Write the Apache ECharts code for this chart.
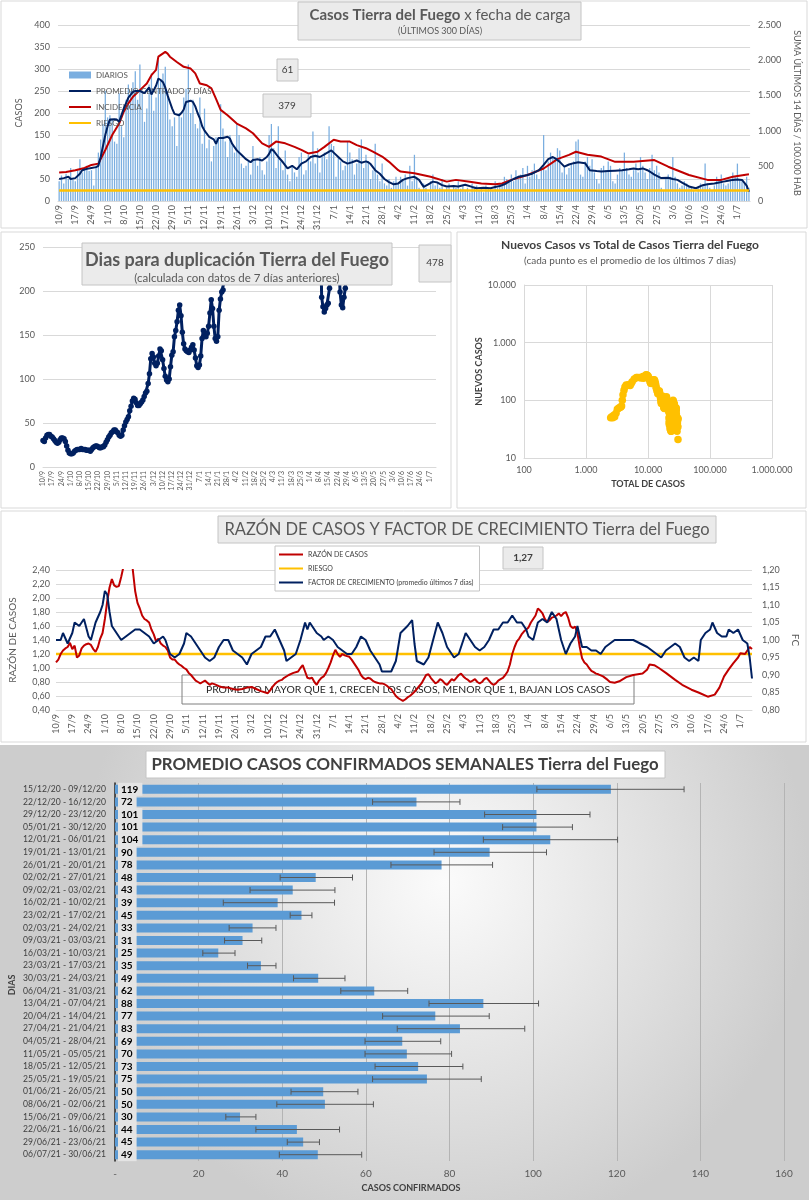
<!DOCTYPE html>
<html><head><meta charset="utf-8">
<script src="https://cdn.jsdelivr.net/npm/echarts@6/dist/echarts.min.js"></script>
<style>html,body{margin:0;padding:0;background:#fff}#c{width:809px;height:1200px}</style>
</head><body><div id="c"></div>
<script>
const FONT = 'Lato, "Open Sans", sans-serif';
// categorías: 300 días desde 10/9/2020
const dias = [];
for (let i = 0; i < 300; i++) { const d = new Date(2020, 8, 10 + i); dias.push(d.getDate() + '/' + (d.getMonth() + 1)); }

const diarios = [
45,58,40,62,50,75,48, 45,70,95,65,72,80,68, 70,35,80,110,140,175,250, 190,195,185,135,130,245,170,
145,230,265,250,270,295,230, 310,250,180,210,265,290,205, 235,320,275,290,305,250,185, 170,190,125,200,190,235,255,
310,200,230,175,165,235,130, 210,120,140,90,125,145,140, 220,165,135,100,150,130,110, 175,150,85,75,80,90,60,
125,95,80,100,70,60,90, 150,175,120,75,170,90,70, 115,60,45,80,65,55,100, 110,60,70,105,90,158,85,
120,65,100,110,95,170,130, 125,55,100,90,70,80,135, 110,95,60,85,120,140,75, 105,90,50,70,130,60,45,
85,40,35,50,30,45,55, 40,55,50,60,35,80,45, 105,55,30,25,40,30,20, 45,60,35,40,30,50,25,
30,40,25,35,30,45,28, 35,25,30,20,40,30,35, 25,30,20,35,28,30,25, 45,30,40,35,55,50,45,
60,45,70,50,60,75,40, 80,55,70,85,60,50,75, 150,70,90,110,100,95,120, 115,65,80,60,75,85,90,
135,140,60,55,90,100,80, 95,65,50,40,75,80,70, 90,80,45,40,60,75,70, 110,75,60,55,70,85,65,
100,80,65,50,75,105,70, 80,65,30,25,50,60,55, 100,55,40,30,35,45,40, 35,30,25,20,30,40,35,
85,40,30,25,35,55,45, 60,40,35,40,50,65,55, 85,50,45,40,55,30];

const promedio = [['10/9',50],['12/9',52],['14/9',55],['15/9',50],['17/9',52],['19/9',62],['20/9',70],['22/9',73],['24/9',75],['26/9',77],['27/9',80],['28/9',100],['29/9',125],['30/9',150],['1/10',170],['2/10',185],['4/10',186],['5/10',185],['6/10',180],['7/10',195],['8/10',210],['10/10',235],['12/10',248],['13/10',250],['15/10',250],['17/10',245],['19/10',258],['20/10',242],['22/10',262],['23/10',278],['24/10',275],['25/10',270],['26/10',258],['27/10',240],['28/10',225],['29/10',210],['30/10',198],['1/11',195],['2/11',200],['3/11',208],['4/11',225],['6/11',228],['7/11',225],['8/11',215],['9/11',200],['10/11',188],['11/11',170],['12/11',160],['14/11',146],['16/11',140],['17/11',130],['18/11',143],['20/11',143],['22/11',146],['23/11',142],['24/11',130],['26/11',115],['28/11',105],['30/11',95],['2/12',88],['3/12',93],['5/12',95],['7/12',92],['9/12',100],['10/12',107],['11/12',118],['12/12',114],['14/12',100],['16/12',88],['18/12',74],['19/12',77],['20/12',80],['22/12',72],['24/12',85],['26/12',90],['28/12',100],['30/12',103],['1/1',100],['3/1',106],['5/1',112],['6/1',115],['7/1',110],['9/1',100],['11/1',90],['13/1',85],['15/1',88],['17/1',92],['19/1',87],['21/1',90],['22/1',88],['23/1',84],['25/1',70],['27/1',62],['29/1',50],['31/1',43],['2/2',38],['4/2',40],['6/2',48],['8/2',52],['11/2',55],['13/2',48],['15/2',32],['17/2',38],['19/2',44],['21/2',42],['23/2',36],['25/2',33],['28/2',34],['2/3',33],['5/3',37],['8/3',32],['10/3',29],['13/3',30],['16/3',29],['18/3',32],['20/3',34],['22/3',38],['24/3',44],['26/3',50],['28/3',55],['30/3',57],['1/4',59],['3/4',62],['6/4',70],['8/4',82],['10/4',95],['12/4',100],['13/4',97],['15/4',89],['17/4',78],['19/4',83],['21/4',86],['23/4',88],['26/4',86],['28/4',70],['1/5',68],['3/5',67],['6/5',68],['9/5',69],['12/5',70],['15/5',72],['17/5',74],['19/5',72],['21/5',74],['23/5',70],['24/5',67],['26/5',60],['29/5',52],['1/6',53],['3/6',50],['5/6',48],['7/6',42],['10/6',33],['13/6',29],['16/6',36],['18/6',38],['21/6',40],['23/6',42],['25/6',44],['27/6',46],['29/6',48],['1/7',49],['3/7',48],['5/7',35],['6/7',21]];

const incidencia = [['10/9',406],['13/9',412],['17/9',437],['21/9',469],['24/9',512],['27/9',531],['30/9',725],['3/10',937],['6/10',1100],['8/10',1269],['10/10',1387],['12/10',1481],['15/10',1575],['18/10',1669],['20/10',1787],['22/10',1862],['23/10',2050],['26/10',2119],['27/10',2094],['28/10',2050],['31/10',1975],['3/11',1906],['6/11',1881],['8/11',1812],['10/11',1669],['13/11',1644],['15/11',1600],['17/11',1450],['19/11',1294],['22/11',1219],['26/11',1100],['30/11',1031],['3/12',962],['7/12',819],['10/12',769],['13/12',844],['17/12',819],['21/12',769],['24/12',725],['27/12',675],['31/12',700],['3/1',769],['7/1',869],['10/1',844],['14/1',844],['17/1',794],['21/1',750],['24/1',700],['28/1',631],['31/1',556],['4/2',437],['5/2',419],['11/2',394],['18/2',344],['25/2',275],['1/3',300],['7/3',275],['12/3',250],['18/3',237],['21/3',250],['25/3',300],['1/4',369],['8/4',462],['14/4',594],['19/4',656],['22/4',700],['27/4',656],['3/5',631],['9/5',556],['17/5',556],['26/5',581],['1/6',487],['10/6',369],['18/6',300],['24/6',300],['29/6',344],['6/7',381]];
const riesgoIncidencia = [['10/9',150],['6/7',150]];

const duplicacion = [
30,29,33,36,37,37,35,34,32,30, 28,27,28,31,33,33,32,29,24,19, 16,15,15,16,18,19,20,20,20,21,
20,20,20,19,19,19,18,20,22,23, 24,24,23,22,22,23,23,25,28,31, 34,36,39,40,42,42,40,39,36,35,
36,42,47,51,54,57,64,69,75,78, 77,73,70,70,72,74,76,80,84,86, 95,106,123,129,125,118,115,118,126,134,
132,122,112,103,99,97,100,114,127,131, 148,155,165,178,184,172,153,140,134,132, 131,130,133,136,139,133,124,115,113,116,
126,146,155,152,148,152,160,175,190,180, 160,146,143,148,178,191,199,201,212,240, 290];
const duplicacionAbril = [['9/4',280],['10/4',193],['11/4',182],['12/4',176],['13/4',180],['14/4',184],['15/4',186],['16/4',203],['17/4',240],['18/4','-'],['23/4',240],['24/4',199],['25/4',184],['26/4',181],['27/4',193],['28/4',203],['29/4',250],['30/4','-']];

const totalCasos = [2500,2600,2700,2800,2900,3050,3200,3350,3500,3650,3750,3850,3950,4100,4250,4450,4800,5000,5150,5350,5550,6000,6500,6750,7250,7750,8250,8500,9000,9300,9550,9850,10100,10350,10600,10800,11000,11400,11600,11800,12000,12500,12700,12900,13100,13300,13500,13650,13950,14250,14400,14550,14850,15100,15300,15550,15800,16000,16200,16400,16500,16700,16900,17100,17200,17300,17450,17650,17850,18000,18100,18200,18350,18500,18700,18900,19100,19300,19500,19700,19850,19950,20150,20350,20500,20700,20900,21050,21250,21350,21400,21600,21700,21850,21950,22050,22100,22200,22300,22450,22550,22650,22700,22800,22900,22950,23050,23150,23250,23350,23450,23500,23600,23700,23750,23800,23900,24000,24100,24200,24350,24450,24650,24800,24950,25150,25350,25450,25650,25800,25950,26150,26300,26550,26700,26900,27000,27200,27400,27600,27850,28000,28100,28250,28400,28500,28600,28750,28900,29000,29100,29200,29300,29400,29500,29600,29750,29800,29900,30000,30100,30200,30300,30400,30450];
const nuevosCasos = [50,52,50,55,52,60,70,73,75,77,80,100,125,150,170,185,186,185,180,195,210,235,248,250,250,245,258,242,262,278,275,270,258,240,225,210,198,195,200,208,225,228,225,215,200,188,170,160,146,140,130,143,143,146,142,130,115,105,95,88,93,95,92,100,107,118,114,100,88,74,77,80,72,85,90,100,103,100,106,112,115,110,100,90,85,88,92,87,90,88,84,70,62,50,43,38,40,48,52,55,48,32,38,44,42,36,33,34,33,37,32,29,30,29,32,34,38,44,50,55,57,59,62,70,82,95,100,97,89,78,83,86,88,86,70,68,67,68,69,70,72,74,72,74,70,67,60,52,53,50,48,42,33,29,36,38,40,42,44,46,48,49,48,35,21];

const razon = [['10/9',1.08],['11/9',1.12],['12/9',1.2],['13/9',1.25],['14/9',1.28],['15/9',1.3],['16/9',1.36],['17/9',1.27],['18/9',1.32],['19/9',1.15],['20/9',1.18],['21/9',1.28],['22/9',1.32],['23/9',1.34],['24/9',1.35],['25/9',1.33],['26/9',1.27],['27/9',1.23],['28/9',1.3],['29/9',1.42],['30/9',1.5],['1/10',1.7],['2/10',1.95],['3/10',2.15],['4/10',2.27],['5/10',2.18],['6/10',2.16],['7/10',2.17],['8/10',2.3],['9/10',2.45],['10/10',2.8],['11/10',3.0],['12/10',2.8],['13/10',2.4],['14/10',2.1],['15/10',1.93],['16/10',1.85],['17/10',1.75],['18/10',1.7],['19/10',1.68],['20/10',1.65],['21/10',1.55],['22/10',1.48],['23/10',1.38],['24/10',1.42],['25/10',1.35],['26/10',1.32],['27/10',1.3],['28/10',1.25],['29/10',1.15],['30/10',1.12],['31/10',1.12],['1/11',1.08],['2/11',1.05],['3/11',1.03],['4/11',1.0],['5/11',0.98],['6/11',0.93],['7/11',0.9],['8/11',0.86],['9/11',0.82],['10/11',0.8],['11/11',0.78],['12/11',0.8],['13/11',0.82],['14/11',0.79],['15/11',0.76],['16/11',0.78],['17/11',0.77],['19/11',0.74],['21/11',0.72],['23/11',0.72],['25/11',0.7],['27/11',0.69],['29/11',0.7],['1/12',0.72],['3/12',0.73],['5/12',0.7],['7/12',0.67],['9/12',0.65],['10/12',0.64],['11/12',0.68],['12/12',0.73],['13/12',0.77],['14/12',0.8],['15/12',0.82],['16/12',0.83],['17/12',0.86],['19/12',0.9],['21/12',0.93],['23/12',0.95],['24/12',1.0],['25/12',1.04],['26/12',0.95],['27/12',0.86],['28/12',0.85],['29/12',0.86],['30/12',0.8],['31/12',0.76],['1/1',0.82],['2/1',0.86],['3/1',0.88],['4/1',0.93],['5/1',1.0],['6/1',1.08],['7/1',1.18],['8/1',1.26],['9/1',1.2],['10/1',1.16],['11/1',1.2],['12/1',1.18],['13/1',1.17],['14/1',1.16],['15/1',1.12],['16/1',1.07],['17/1',1.02],['18/1',0.97],['19/1',0.9],['20/1',0.86],['21/1',0.84],['22/1',0.86],['23/1',0.85],['24/1',0.82],['25/1',0.8],['26/1',0.79],['27/1',0.78],['28/1',0.78],['29/1',0.77],['30/1',0.75],['31/1',0.72],['1/2',0.7],['2/2',0.65],['3/2',0.6],['4/2',0.57],['5/2',0.55],['6/2',0.53],['7/2',0.55],['8/2',0.58],['9/2',0.6],['10/2',0.63],['11/2',0.66],['12/2',0.7],['13/2',0.74],['14/2',0.78],['15/2',0.84],['16/2',0.9],['17/2',0.91],['18/2',0.86],['19/2',0.82],['20/2',0.78],['21/2',0.8],['22/2',0.84],['23/2',0.82],['24/2',0.78],['25/2',0.76],['26/2',0.8],['27/2',0.84],['28/2',0.82],['1/3',0.86],['2/3',0.9],['3/3',0.92],['4/3',0.88],['5/3',0.85],['6/3',0.83],['7/3',0.8],['8/3',0.82],['9/3',0.84],['10/3',0.8],['11/3',0.78],['12/3',0.8],['13/3',0.84],['14/3',0.86],['15/3',0.82],['16/3',0.78],['17/3',0.76],['18/3',0.78],['19/3',0.82],['20/3',0.84],['21/3',0.86],['22/3',0.9],['23/3',0.95],['24/3',1.05],['25/3',1.2],['26/3',1.3],['27/3',1.38],['28/3',1.42],['29/3',1.48],['30/3',1.52],['31/3',1.55],['1/4',1.58],['2/4',1.65],['3/4',1.7],['4/4',1.75],['5/4',1.85],['6/4',1.82],['7/4',1.78],['8/4',1.7],['9/4',1.66],['10/4',1.68],['11/4',1.72],['12/4',1.73],['13/4',1.75],['14/4',1.78],['15/4',1.74],['16/4',1.78],['17/4',1.8],['18/4',1.72],['19/4',1.6],['20/4',1.57],['21/4',1.59],['22/4',1.5],['23/4',1.3],['24/4',1.14],['25/4',1.08],['26/4',1.05],['27/4',1.0],['28/4',0.96],['29/4',0.94],['30/4',0.92],['1/5',0.91],['3/5',0.88],['5/5',0.83],['6/5',0.8],['8/5',0.79],['10/5',0.81],['13/5',0.87],['16/5',0.9],['20/5',0.92],['22/5',0.98],['23/5',1.05],['25/5',1.04],['27/5',1.0],['30/5',0.93],['3/6',0.83],['6/6',0.76],['10/6',0.69],['13/6',0.65],['17/6',0.59],['20/6',0.62],['22/6',0.72],['24/6',0.88],['26/6',0.98],['28/6',1.07],['30/6',1.15],['1/7',1.21],['3/7',1.2],['5/7',1.3],['6/7',1.27]];
const riesgoRazon = [['10/9',1.2],['6/7',1.2]];
const factorCrecimiento = [['10/9',1.0],['12/9',1.0],['13/9',1.02],['15/9',0.99],['17/9',1.02],['18/9',1.05],['20/9',1.04],['22/9',1.06],['24/9',1.01],['25/9',1.0],['27/9',1.05],['29/9',1.08],['30/9',1.1],['1/10',1.14],['2/10',1.13],['3/10',1.08],['4/10',1.04],['6/10',1.02],['8/10',1.0],['10/10',1.01],['12/10',1.02],['14/10',1.03],['16/10',1.03],['18/10',1.02],['20/10',1.01],['22/10',0.99],['24/10',1.0],['26/10',1.01],['27/10',1.0],['29/10',0.96],['31/10',0.95],['2/11',0.96],['4/11',0.99],['5/11',1.02],['7/11',1.01],['9/11',0.99],['11/11',0.97],['13/11',0.95],['15/11',0.94],['17/11',0.95],['19/11',0.98],['21/11',1.0],['23/11',1.0],['25/11',0.97],['27/11',0.96],['29/11',0.95],['1/12',0.93],['3/12',0.96],['5/12',0.97],['7/12',0.98],['9/12',1.01],['11/12',1.01],['13/12',1.03],['15/12',1.0],['17/12',0.97],['18/12',0.94],['20/12',0.95],['22/12',0.96],['24/12',1.0],['26/12',1.05],['27/12',1.03],['28/12',1.05],['30/12',1.03],['31/12',1.02],['2/1',1.01],['3/1',1.0],['5/1',1.01],['7/1',1.0],['9/1',0.98],['11/1',0.97],['13/1',0.96],['15/1',0.96],['17/1',0.98],['19/1',1.01],['21/1',1.0],['23/1',0.97],['25/1',0.95],['27/1',0.93],['28/1',0.91],['30/1',0.91],['1/2',0.91],['3/2',0.94],['5/2',1.02],['8/2',1.04],['10/2',1.057],['11/2',0.99],['12/2',0.94],['15/2',0.93],['17/2',0.95],['19/2',1.0],['21/2',1.05],['23/2',1.02],['25/2',0.98],['27/2',0.96],['28/2',0.95],['2/3',0.96],['4/3',1.0],['5/3',1.02],['7/3',1.0],['9/3',0.98],['11/3',0.97],['13/3',0.98],['15/3',1.0],['17/3',1.03],['19/3',1.03],['21/3',1.05],['23/3',1.05],['25/3',1.07],['27/3',1.05],['29/3',1.05],['31/3',1.03],['1/4',1.01],['3/4',1.0],['5/4',1.05],['7/4',1.06],['9/4',1.05],['11/4',1.08],['13/4',1.06],['15/4',1.0],['17/4',0.96],['19/4',0.99],['21/4',1.01],['22/4',1.04],['24/4',0.98],['26/4',0.98],['28/4',0.97],['30/4',0.97],['2/5',0.96],['4/5',0.98],['6/5',0.99],['8/5',1.0],['10/5',1.0],['13/5',1.0],['16/5',1.0],['19/5',0.99],['22/5',0.98],['24/5',0.97],['26/5',0.96],['28/5',0.95],['30/5',0.97],['1/6',0.98],['3/6',0.99],['5/6',0.98],['7/6',0.95],['9/6',0.94],['11/6',0.95],['13/6',0.94],['14/6',1.0],['16/6',1.02],['18/6',1.03],['19/6',1.05],['21/6',1.02],['23/6',1.01],['25/6',1.01],['26/6',1.03],['28/6',1.02],['30/6',1.03],['2/7',1.0],['4/7',0.99],['5/7',0.95],['6/7',0.89]];

const semanas = ['15/12/20 - 09/12/20','22/12/20 - 16/12/20','29/12/20 - 23/12/20','05/01/21 - 30/12/20','12/01/21 - 06/01/21','19/01/21 - 13/01/21','26/01/21 - 20/01/21','02/02/21 - 27/01/21','09/02/21 - 03/02/21','16/02/21 - 10/02/21','23/02/21 - 17/02/21','02/03/21 - 24/02/21','09/03/21 - 03/03/21','16/03/21 - 10/03/21','23/03/21 - 17/03/21','30/03/21 - 24/03/21','06/04/21 - 31/03/21','13/04/21 - 07/04/21','20/04/21 - 14/04/21','27/04/21 - 21/04/21','04/05/21 - 28/04/21','11/05/21 - 05/05/21','18/05/21 - 12/05/21','25/05/21 - 19/05/21','01/06/21 - 26/05/21','08/06/21 - 02/06/21','15/06/21 - 09/06/21','22/06/21 - 16/06/21','29/06/21 - 23/06/21','06/07/21 - 30/06/21'];
const promedioSemanal = [118.6,72.1,100.8,100.8,104.1,89.6,78.1,48.0,42.5,38.9,44.6,32.9,30.5,24.7,34.9,48.6,62.0,88.1,76.6,82.5,68.7,69.8,72.5,74.6,49.8,50.2,29.9,43.5,45.0,48.5];
const errorBajo = [100.9,61.6,88.4,92.7,88.1,76.3,66,39.5,32.3,25.9,41.9,27.3,26.2,21,31.7,42.7,54,75.1,64,67.5,59.8,59.8,62.2,61.6,42.1,38.7,26.5,33.7,41.2,39.3];
const errorAlto = [136.1,82.5,113.6,109.4,120.2,103.2,90.3,56.8,52.6,52.5,47.1,38.5,35.1,28.7,38.5,55,70,101.3,89.5,98,77.9,80.5,83.2,87.6,58.1,61.8,33.7,53.7,48.9,59];

const miles = v => String(v).replace(/\B(?=(\d{3})+(?!\d))/g, '.');
const coma = v => v.toFixed(2).replace('.', ',');
const GRIS = '#595959', LINEA = '#d9d9d9';
const NAVY = '#002060', ROJO = '#C00000', AMAR = '#FFC000';

const lblDia = (size) => ({ interval: 6, rotate: 90, fontSize: size, color: GRIS, fontFamily: FONT, margin: 4 });
const ejeCat = (grid, size, gap) => ({ type: 'category', gridIndex: grid, data: dias, boundaryGap: gap,
  axisLabel: lblDia(size), axisTick: { show: false }, axisLine: { lineStyle: { color: LINEA } } });
const ejeVal = (grid, o) => Object.assign({ type: 'value', gridIndex: grid,
  axisLabel: { fontSize: 9, color: GRIS, fontFamily: FONT }, axisLine: { show: false }, axisTick: { show: false },
  splitLine: { lineStyle: { color: LINEA } } }, o);
const itemLinea = name => ({ name, itemStyle: { opacity: 0 } });

function caja(x, y, w, h, fill, z) { return { type: 'rect', z: z || 50, shape: { x, y, width: w, height: h }, style: { fill: fill || '#ebebeb', stroke: '#c4c4c4', lineWidth: 1 } }; }
function texto(x, y, t, size, o) { return { type: 'text', z: (o && o.z) || 51, style: Object.assign({ text: t, x, y, align: 'center', verticalAlign: 'middle', fontSize: size, fontFamily: FONT, fill: '#404040' }, o || {}) }; }

const chart = echarts.init(document.getElementById('c'));
chart.setOption({
  animation: false,
  backgroundColor: '#fff',
  textStyle: { fontFamily: FONT },
  grid: [
    { left: 58, right: 54, top: 25, height: 176 },
    { left: 43, width: 393, top: 247, height: 220 },
    { left: 524, width: 248, top: 285, height: 173 },
    { left: 55, right: 57, top: 570, height: 140 },
    { left: 115, right: 25, top: 783, height: 378 }
  ],
  xAxis: [
    ejeCat(0, 9, true),
    ejeCat(1, 7, false),
    { type: 'log', gridIndex: 2, min: 100, max: 1000000, logBase: 10, name: 'TOTAL DE CASOS', nameLocation: 'middle', nameGap: 22,
      nameTextStyle: { fontSize: 9, fontWeight: 'bold', color: '#404040', fontFamily: FONT },
      axisLabel: { fontSize: 9, color: GRIS, formatter: miles, fontFamily: FONT }, axisTick: { show: false },
      axisLine: { lineStyle: { color: LINEA } }, splitLine: { show: true, lineStyle: { color: LINEA } } },
    ejeCat(3, 9, false),
    { type: 'value', gridIndex: 4, min: 0, max: 160, interval: 20,
      axisLabel: { fontSize: 10, color: GRIS, margin: 8, fontFamily: FONT, formatter: v => v === 0 ? '-' : v },
      axisLine: { show: false }, axisTick: { show: false }, splitLine: { lineStyle: { color: '#b4b4b4' } } }
  ],
  yAxis: [
    ejeVal(0, { min: 0, max: 400, interval: 50, name: 'CASOS', nameLocation: 'middle', nameGap: 32,
      nameTextStyle: { fontSize: 9, color: GRIS, fontFamily: FONT } }),
    ejeVal(0, { min: 0, max: 2500, interval: 500, position: 'right', splitLine: { show: false },
      axisLabel: { fontSize: 9, color: GRIS, formatter: miles, fontFamily: FONT },
      name: 'SUMA ÚLTIMOS 14 DÍAS / 100.000 HAB', nameLocation: 'middle', nameGap: 40, nameRotate: -90,
      nameTextStyle: { fontSize: 9, color: GRIS, fontFamily: FONT } }),
    ejeVal(1, { min: 0, max: 250, interval: 50, axisLabel: { fontSize: 9, color: GRIS, fontFamily: FONT } }),
    { type: 'log', gridIndex: 2, min: 10, max: 10000, logBase: 10, name: 'NUEVOS CASOS', nameLocation: 'middle', nameGap: 36,
      nameTextStyle: { fontSize: 9, fontWeight: 'bold', color: '#404040', fontFamily: FONT },
      axisLabel: { fontSize: 9, color: GRIS, formatter: miles, fontFamily: FONT }, axisTick: { show: false },
      axisLine: { lineStyle: { color: LINEA } }, splitLine: { show: true, lineStyle: { color: LINEA } } },
    ejeVal(3, { min: 0.4, max: 2.4, interval: 0.2, axisLabel: { fontSize: 9, color: GRIS, formatter: coma, fontFamily: FONT, margin: 6 },
      name: 'RAZÓN DE CASOS', nameLocation: 'middle', nameGap: 38, nameTextStyle: { fontSize: 10, color: GRIS, fontFamily: FONT } }),
    ejeVal(3, { min: 0.8, max: 1.2, interval: 0.05, position: 'right', splitLine: { show: false },
      axisLabel: { fontSize: 9, color: GRIS, formatter: coma, fontFamily: FONT, margin: 10 },
      name: 'FC', nameLocation: 'middle', nameGap: 38, nameRotate: -90, nameTextStyle: { fontSize: 10, color: GRIS, fontFamily: FONT } }),
    { type: 'category', gridIndex: 4, data: semanas, inverse: true,
      axisLabel: { interval: 0, fontSize: 8.6, color: '#404040', margin: 9, fontFamily: FONT },
      axisTick: { show: false }, axisLine: { lineStyle: { color: '#262626', width: 1.5 } } }
  ],
  legend: [
    { left: 63, top: 66, orient: 'vertical', itemGap: 8, itemWidth: 22, itemHeight: 7,
      textStyle: { fontSize: 8, color: GRIS, fontFamily: FONT },
      data: [{ name: 'DIARIOS', icon: 'rect' }, itemLinea('PROMEDIO CENTRADO 7 DÍAS'), itemLinea('INCIDENCIA'), itemLinea('RIESGO')] },
    { left: 275, top: 546, orient: 'vertical', itemGap: 7, itemWidth: 24, itemHeight: 7, padding: [5, 6, 5, 3],
      backgroundColor: '#fff', borderColor: '#c4c4c4', borderWidth: 1,
      textStyle: { fontSize: 7, color: '#404040', fontFamily: FONT },
      data: [itemLinea('RAZÓN DE CASOS'), itemLinea('RIESGO'), itemLinea('FACTOR DE CRECIMIENTO (promedio últimos 7 dias)')] }
  ],
  series: [
    { type: 'bar', name: 'DIARIOS', xAxisIndex: 0, yAxisIndex: 0, data: diarios, barWidth: '55%', itemStyle: { color: '#7aaee0' }, z: 1 },
    { type: 'line', name: 'PROMEDIO CENTRADO 7 DÍAS', xAxisIndex: 0, yAxisIndex: 0, data: promedio, symbol: 'none', lineStyle: { color: NAVY, width: 2 }, itemStyle: { color: NAVY }, z: 4 },
    { type: 'line', name: 'INCIDENCIA', xAxisIndex: 0, yAxisIndex: 1, data: incidencia, symbol: 'none', lineStyle: { color: ROJO, width: 2 }, itemStyle: { color: ROJO }, z: 3 },
    { type: 'line', name: 'RIESGO', xAxisIndex: 0, yAxisIndex: 1, data: riesgoIncidencia, symbol: 'none', lineStyle: { color: AMAR, width: 2.5 }, itemStyle: { color: AMAR }, z: 5 },

    { type: 'line', xAxisIndex: 1, yAxisIndex: 2, data: duplicacion, symbol: 'circle', symbolSize: 5.5, showAllSymbol: true, clip: true,
      lineStyle: { color: NAVY, width: 3 }, itemStyle: { color: NAVY } },
    { type: 'line', xAxisIndex: 1, yAxisIndex: 2, data: duplicacionAbril, symbol: 'circle', symbolSize: 5.5, showAllSymbol: true, clip: true,
      lineStyle: { color: NAVY, width: 3 }, itemStyle: { color: NAVY } },

    { type: 'scatter', xAxisIndex: 2, yAxisIndex: 3, symbolSize: 7.5, itemStyle: { color: AMAR, opacity: 1 },
      data: totalCasos.map((t, i) => [t, nuevosCasos[i]]) },

    { type: 'line', name: 'RAZÓN DE CASOS', xAxisIndex: 3, yAxisIndex: 4, data: razon, symbol: 'none', clip: true, lineStyle: { color: ROJO, width: 2 }, itemStyle: { color: ROJO }, z: 3 },
    { type: 'line', name: 'RIESGO', xAxisIndex: 3, yAxisIndex: 4, data: riesgoRazon, symbol: 'none', lineStyle: { color: AMAR, width: 2.5 }, itemStyle: { color: AMAR }, z: 2 },
    { type: 'line', name: 'FACTOR DE CRECIMIENTO (promedio últimos 7 dias)', xAxisIndex: 3, yAxisIndex: 5, data: factorCrecimiento, symbol: 'none', lineStyle: { color: NAVY, width: 2 }, itemStyle: { color: NAVY }, z: 4 },

    { type: 'bar', xAxisIndex: 4, yAxisIndex: 6, data: promedioSemanal, barWidth: 9, itemStyle: { color: '#5B9BD5' },
      label: { show: true, position: 'insideLeft', distance: 3, formatter: p => Math.round(p.value), fontSize: 10, fontWeight: 'bold', color: '#000',
        backgroundColor: '#e4e4e4', padding: [2, 4, 1, 3], fontFamily: FONT } },
    { type: 'custom', xAxisIndex: 4, yAxisIndex: 6, z: 5,
      data: semanas.map((s, i) => [errorBajo[i], errorAlto[i], i]), encode: { x: [0, 1], y: 2 },
      renderItem: (params, api) => {
        const lo = api.coord([api.value(0), api.value(2)]);
        const hi = api.coord([api.value(1), api.value(2)]);
        const h = 3, st = { stroke: '#595959', lineWidth: 1 };
        return { type: 'group', children: [
          { type: 'line', shape: { x1: lo[0], y1: lo[1], x2: hi[0], y2: hi[1] }, style: st },
          { type: 'line', shape: { x1: lo[0], y1: lo[1] - h, x2: lo[0], y2: lo[1] + h }, style: st },
          { type: 'line', shape: { x1: hi[0], y1: hi[1] - h, x2: hi[0], y2: hi[1] + h }, style: st } ] };
      } }
  ],
  graphic: { elements: [
    { type: 'rect', z: -10, shape: { x: 1, y: 1, width: 806, height: 227 }, style: { fill: '#fff', stroke: '#d9d9d9' } },
    { type: 'rect', z: -10, shape: { x: 1, y: 232, width: 450, height: 276 }, style: { fill: '#fff', stroke: '#d9d9d9' } },
    { type: 'rect', z: -10, shape: { x: 457, y: 232, width: 349, height: 276 }, style: { fill: '#fff', stroke: '#d9d9d9' } },
    { type: 'rect', z: -10, shape: { x: 1, y: 511, width: 805, height: 231 }, style: { fill: '#fff', stroke: '#d9d9d9' } },
    { type: 'rect', z: -10, shape: { x: 0, y: 745, width: 809, height: 455 },
      style: { fill: { type: 'radial', x: 0.55, y: 0.3, r: 0.8, colorStops: [{ offset: 0, color: '#fbfbfb' }, { offset: 1, color: '#cdcdcd' }] } } },
    caja(298, 2, 283, 38),
    { type: 'text', z: 51, style: { text: '{b|Casos Tierra del Fuego} x fecha de carga', x: 440, y: 15, align: 'center', verticalAlign: 'middle',
      fontSize: 15, fontFamily: FONT, fill: '#595959', rich: { b: { fontWeight: 'bold', fontSize: 15, fontFamily: FONT, fill: '#595959' } } } },
    texto(440, 31, '(ÚLTIMOS 300 DÍAS)', 9, { fill: GRIS }),
    caja(277, 59, 21, 22), texto(287.5, 70, '61', 10),
    caja(263, 94, 48, 23), texto(287, 105.5, '379', 10),
    caja(82, 243, 310, 42),
    texto(237, 260, 'Dias para duplicación Tierra del Fuego', 18, { fontWeight: 'bold', fill: '#595959' }),
    texto(237, 278, '(calculada con datos de 7 días anteriores)', 11.5, { fill: GRIS }),
    caja(419, 245, 32, 37), texto(435, 263, '478', 10),
    texto(630, 245, 'Nuevos Casos vs Total de Casos Tierra del Fuego', 12, { fontWeight: 'bold', fill: '#404040' }),
    texto(630, 261, '(cada punto es el promedio de los últimos 7 dias)', 10, { fill: GRIS }),
    caja(218, 516, 498, 27),
    texto(467, 530, 'RAZÓN DE CASOS Y FACTOR DE CRECIMIENTO Tierra del Fuego', 16.5, { fill: '#595959' }),
    caja(503, 547, 40, 22), texto(523, 558, '1,27', 10, { fontWeight: 'bold' }),
    { type: 'rect', z: 1, shape: { x: 182, y: 675, width: 452, height: 29 }, style: { fill: 'rgba(255,255,255,0)', stroke: '#7f7f7f', lineWidth: 1 } },
    texto(408, 690, 'PROMEDIO MAYOR QUE 1, CRECEN LOS CASOS, MENOR QUE 1, BAJAN LOS CASOS', 10.4, { fill: '#262626', z: 1 }),
    caja(146, 751, 519, 27, '#fff'),
    texto(405, 765, 'PROMEDIO CASOS CONFIRMADOS SEMANALES Tierra del Fuego', 16.8, { fontWeight: 'bold', fill: '#404040' }),
    texto(411, 1188, 'CASOS CONFIRMADOS', 9, { fontWeight: 'bold', fill: '#404040' }),
    { type: 'text', z: 51, rotation: Math.PI / 2, x: 12, y: 985, style: { text: 'DIAS', x: 0, y: 0, align: 'center', verticalAlign: 'middle', fontSize: 9, fontWeight: 'bold', fontFamily: FONT, fill: '#404040' } }
  ] }
});
</script></body></html>
